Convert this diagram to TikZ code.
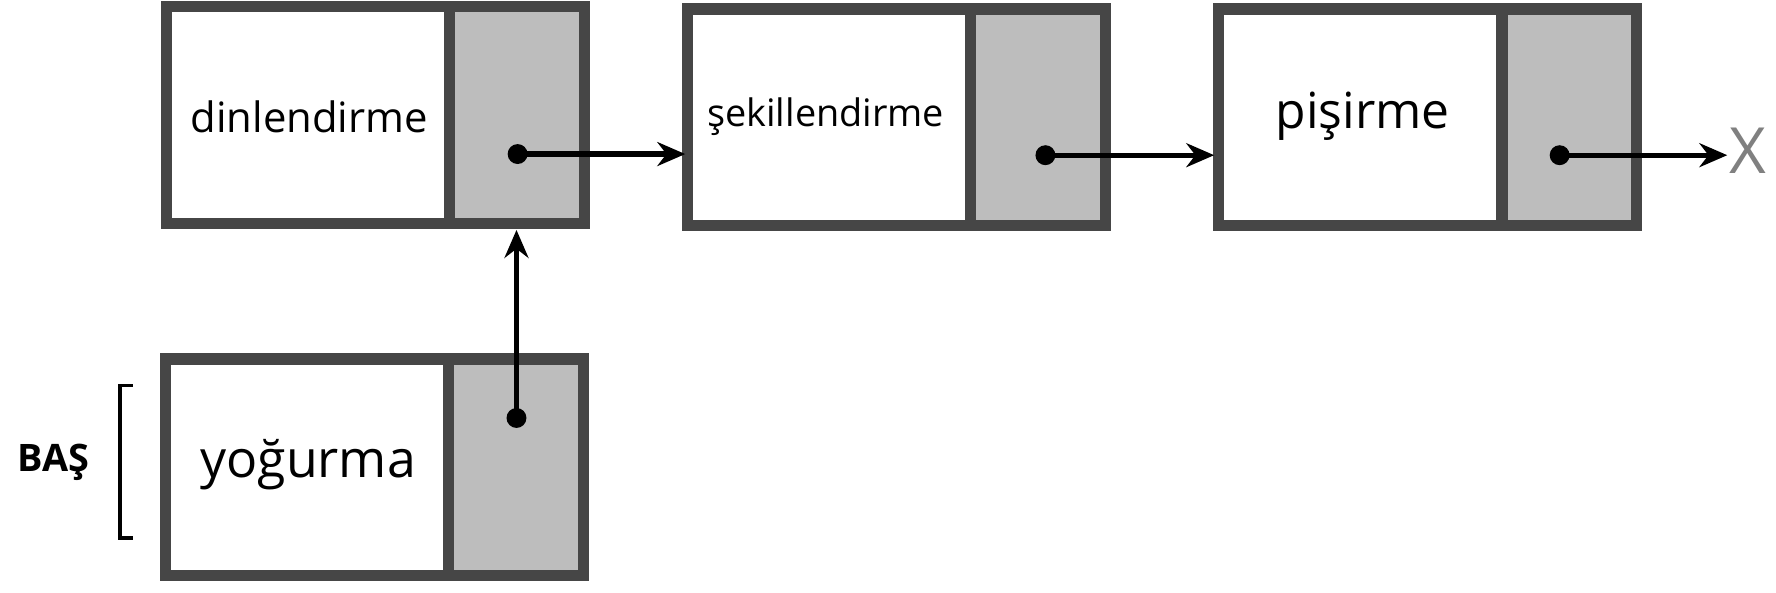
\documentclass[tikz,border=0pt]{standalone}
\usepackage{fontspec}
\setmainfont{Open Sans}
\usetikzlibrary{arrows.meta,positioning}
\definecolor{framegray}{HTML}{464646}
\definecolor{cellgray}{HTML}{BDBDBD}
\tikzset{
  datacell/.style={draw=framegray,line width=2.8pt,fill=white,minimum width=2.5cm,minimum height=1.91cm,inner sep=0pt},
  linkcell/.style={draw=framegray,line width=2.8pt,fill=cellgray,minimum width=1.19cm,minimum height=1.91cm,inner sep=0pt},
  ptr/.style={-{Stealth[length=7pt,width=6pt]},line width=1.3pt},
  dot/.style={circle,fill=black,inner sep=0pt,minimum size=5pt}
}
\begin{document}
\begin{tikzpicture}[x=0.01cm,y=-0.01cm]
\useasboundingbox (0,0) rectangle (1568,523);
% list cells
\node[datacell] (d1) at (272,101.5) {};
\node[linkcell,right=-2.8pt of d1] (l1) {};
\node[datacell] (d2) at (732,103.5) {};
\node[linkcell,right=-2.8pt of d2] (l2) {};
\node[datacell] (d3) at (1201,103.5) {};
\node[linkcell,right=-2.8pt of d3] (l3) {};
\node[datacell] (d4) at (271,412.5) {};
\node[linkcell,right=-2.8pt of d4] (l4) {};
% texts
\node at (273,103) {\fontsize{10.5pt}{12pt}\selectfont dinlendirme};
\node at (729,103) {\fontsize{9.5pt}{11pt}\selectfont şekillendirme};
\node at (1203,103) {\fontsize{12.5pt}{14pt}\selectfont pişirme};
\node at (272,410) {\fontsize{13pt}{15pt}\selectfont yoğurma};
\node[font=\bfseries\fontsize{9.5pt}{11pt}\selectfont] (bas) at (47,408) {BAŞ};
\draw[line width=0.8pt] (117,340) -- (106,340) -- (106,475) -- (117,475);
% pointers
\node[dot] (p1) at (457,136) {};
\node[dot] (p2) at (923,137) {};
\node[dot] (p3) at (1377,137) {};
\node[dot] (p4) at (456,369) {};
\coordinate (t1) at (605,136);
\coordinate (t2) at (1072,137);
\coordinate (t3) at (1525,137);
\coordinate (t4) at (456,203);
\node[text=gray,font=\fontsize{16pt}{18pt}\selectfont] (nil) at (1543,133) {X};
\draw[ptr] (p1.center) -- (t1);
\draw[ptr] (p2.center) -- (t2);
\draw[ptr] (p3.center) -- (t3);
\draw[ptr] (p4.center) -- (t4);
\end{tikzpicture}
\end{document}
